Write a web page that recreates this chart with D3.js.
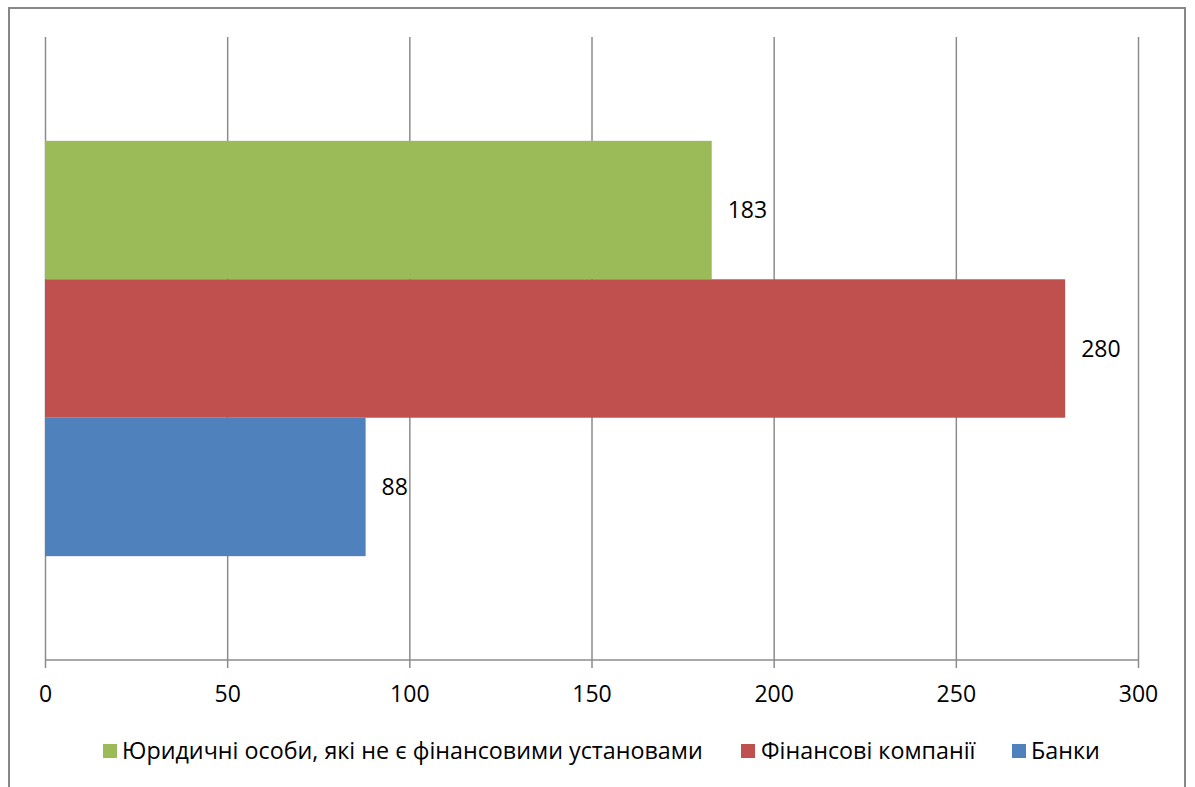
<!DOCTYPE html>
<html>
<head>
<meta charset="utf-8">
<script src="https://cdn.jsdelivr.net/npm/d3@7"></script>
<style>
  html, body { margin: 0; padding: 0; background: #fff; }
  svg { display: block; }
  text { font-family: "Open Sans", "Liberation Sans", sans-serif; fill: #000; }
</style>
</head>
<body>
<svg id="chart" width="1195" height="787"></svg>
<script>
// Series, in legend order (top bar first)
const seriesNames = [
  "Юридичні особи, які не є фінансовими установами",
  "Фінансові компанії",
  "Банки"
];
const seriesValues = [183, 280, 88];
const seriesColors = ["#9BBB59", "#C0504D", "#4F81BD"];
const xTicks = [0, 50, 100, 150, 200, 250, 300];

const svg = d3.select("#chart");

// outer frame
svg.append("rect")
  .attr("x", 9).attr("y", 8)
  .attr("width", 1176).attr("height", 790)
  .attr("fill", "#fff")
  .attr("stroke", "#878787").attr("stroke-width", 2);

const plot = { left: 45, right: 1138, top: 37, bottom: 660 };

const x = d3.scaleLinear().domain([0, 300]).range([plot.left, plot.right]);

// one category band, gap width 150% on each side split evenly
const y = d3.scaleBand()
  .domain(seriesNames)
  .range([plot.top, plot.bottom])
  .paddingInner(0)
  .paddingOuter(0.75);

const gridColor = "#8c8c8c";

// vertical gridlines with tick marks below the axis
const xAxis = d3.axisBottom(x)
  .tickValues(xTicks)
  .tickSize(plot.bottom - plot.top + 8)
  .tickPadding(18)
  .tickFormat(d3.format("d"));

const gx = svg.append("g")
  .attr("transform", `translate(0,${plot.top})`)
  .call(xAxis);
gx.select(".domain").remove();
gx.selectAll(".tick line")
  .attr("stroke", gridColor)
  .attr("stroke-width", 1.5);
gx.selectAll(".tick text")
  .attr("font-size", 23)
  .attr("font-family", "'Open Sans', sans-serif")
  .attr("fill", "#000");

// horizontal axis line
svg.append("line")
  .attr("x1", plot.left).attr("x2", plot.right)
  .attr("y1", plot.bottom).attr("y2", plot.bottom)
  .attr("stroke", gridColor).attr("stroke-width", 1.5);

// bars
const data = seriesNames.map((n, i) => ({ name: n, value: seriesValues[i], color: seriesColors[i] }));

svg.append("g").selectAll("rect")
  .data(data)
  .join("rect")
  .attr("x", x(0))
  .attr("y", d => y(d.name))
  .attr("width", d => x(d.value) - x(0))
  .attr("height", y.bandwidth())
  .attr("fill", d => d.color);

// value labels
svg.append("g").selectAll("text")
  .data(data)
  .join("text")
  .attr("x", d => x(d.value) + 16)
  .attr("y", d => y(d.name) + y.bandwidth() / 2)
  .attr("dy", "0.35em")
  .attr("font-size", 23)
  .text(d => d.value);

// legend
const legendItems = [
  { sx: 103, tx: 122 },
  { sx: 741, tx: 761 },
  { sx: 1012, tx: 1031 }
];
const legendY = 751;
const lg = svg.append("g");
data.forEach((d, i) => {
  lg.append("rect")
    .attr("x", legendItems[i].sx).attr("y", legendY - 7)
    .attr("width", 14).attr("height", 14)
    .attr("fill", d.color);
  lg.append("text")
    .attr("x", legendItems[i].tx).attr("y", legendY)
    .attr("dy", "0.35em")
    .attr("font-size", 23.3)
    .text(d.name);
});
</script>
</body>
</html>
